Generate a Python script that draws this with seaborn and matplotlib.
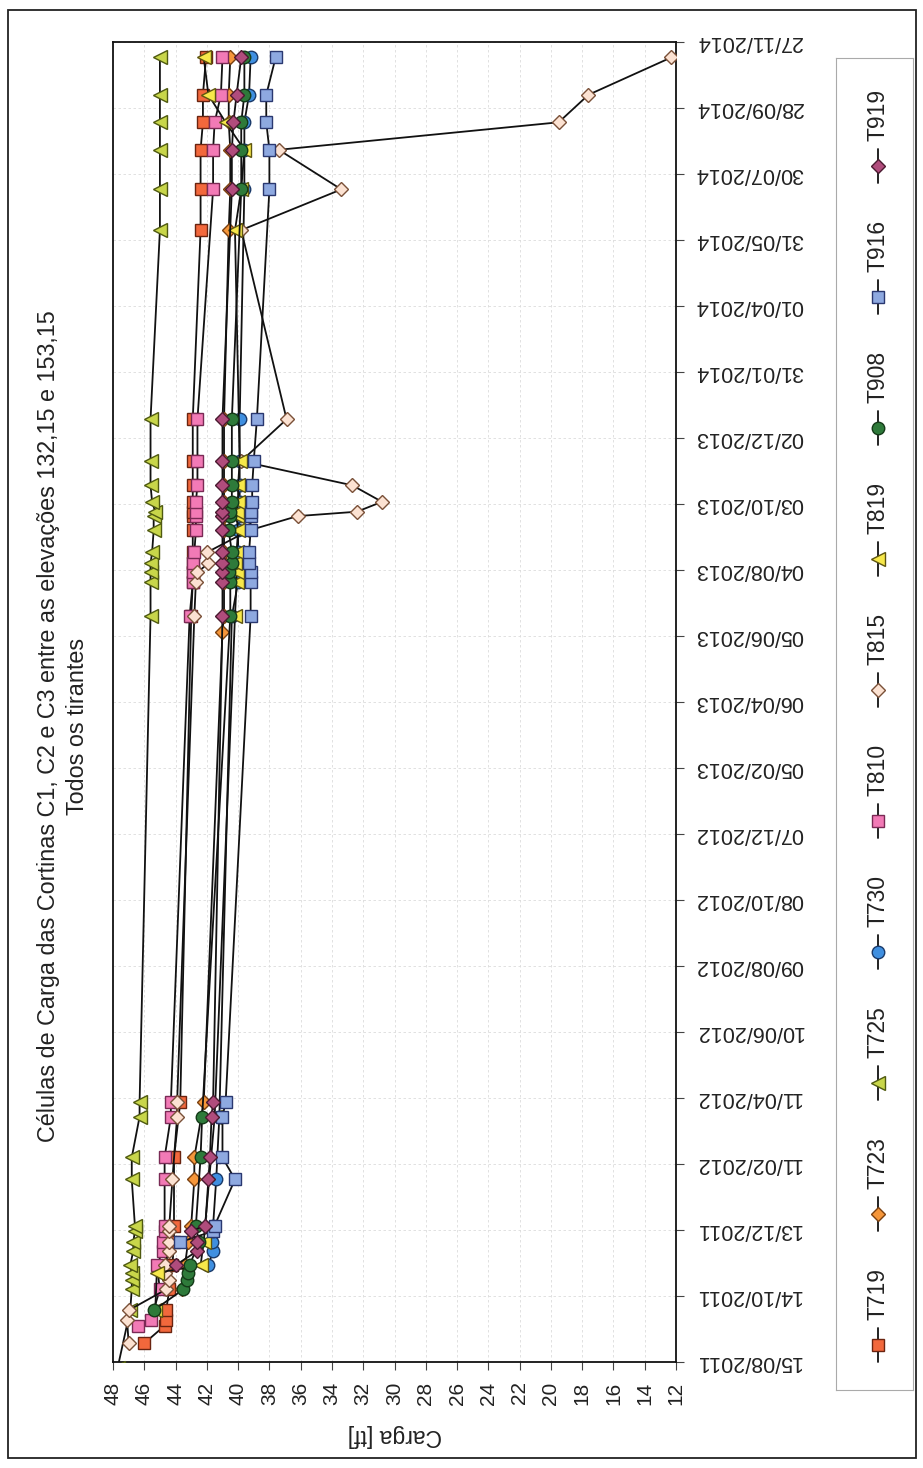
import pandas as pd
import numpy as np
import seaborn as sns
import matplotlib.pyplot as plt
from matplotlib.patches import Rectangle

N = np.nan

datas = [
    "10/08/2011", "01/09/2011", "17/09/2011", "22/09/2011", "01/10/2011", "20/10/2011",
    "29/10/2011", "04/11/2011", "11/11/2011", "24/11/2011", "02/12/2011", "12/12/2011",
    "17/12/2011",
    "28/01/2012", "17/02/2012", "25/03/2012", "07/04/2012",
    "09/06/2013", "23/06/2013", "24/07/2013", "02/08/2013", "10/08/2013", "20/08/2013",
    "09/09/2013", "22/09/2013", "26/09/2013", "05/10/2013", "20/10/2013", "11/11/2013",
    "19/12/2013",
    "09/06/2014", "16/07/2014", "21/08/2014", "15/09/2014", "10/10/2014", "13/11/2014",
]

t719 = [N, 46.0, 44.7, 44.6, 44.6, 44.4, N, N, 44.2, N, 44.1, N, 44.1,
        N, 44.1, N, 43.7,
        N, 43.0, 42.9, 42.9, 42.9, 42.9, 42.9, 42.9, 42.9, 42.9, 42.9, 42.9, 42.9,
        42.4, 42.4, 42.4, 42.25, 42.25, 42.05]
t723 = [N, N, N, N, N, 43.6, N, N, 43.4, N, 43.2, N, 43.0,
        42.8, 42.8, N, 42.2,
        41.0, 40.9, 40.9, 40.9, 40.9, 40.9, 40.9, 40.9, 40.9, 40.9, 40.9, 40.9, 40.9,
        40.6, 40.5, 40.5, 40.6, 40.6, 40.5]
t725 = [47.7, N, N, N, 46.9, 46.8, 46.8, 46.8, 46.9, 46.7, 46.7, 46.6, 46.6,
        46.8, 46.8, 46.3, 46.3,
        N, 45.6, 45.6, 45.6, 45.6, 45.5, 45.4, 45.4, 45.3, 45.5, 45.6, 45.6, 45.6,
        45.0, 45.0, 45.0, 45.0, 45.0, 45.0]
t730 = [N, N, N, N, N, N, N, N, 41.9, 41.6, 41.7, 41.6, 41.6,
        41.4, N, 41.2, N,
        N, 40.4, 40.0, 40.0, 40.0, 40.0, 40.0, 39.9, 39.9, 39.9, 39.9, 39.9, 39.9,
        N, 39.6, 39.6, 39.6, 39.3, 39.2]
t810 = [N, N, 46.4, 45.6, N, 45.0, N, N, 45.2, 44.8, 44.8, 44.7, 44.7,
        44.7, 44.7, 44.3, 44.3,
        N, 43.1, 42.9, 42.9, 42.9, 42.8, 42.7, 42.7, 42.7, 42.7, 42.6, 42.6, 42.6,
        N, 41.6, 41.6, 41.5, 41.1, 41.0]
t815 = [N, 47.0, N, 47.1, 47.0, 44.6, 44.4, 44.7, 44.7, 44.4, 44.4, 44.4, 44.4,
        44.2, N, 43.9, 43.9,
        N, 42.8, 42.7, 42.6, 41.9, 42.0, 39.3, 36.2, 32.4, 30.8, 32.7, 39.8, 36.9,
        39.8, 33.4, 37.4, 19.5, 17.6, 12.3]
t819 = [N, N, N, N, 45.3, N, N, 45.2, 42.4, N, 42.2, N, N,
        N, N, 41.5, N,
        N, 40.2, 40.1, 40.1, 40.2, 40.1, 40.0, 40.1, 40.1, 40.0, 40.0, 39.9, N,
        40.2, 39.8, 39.6, 40.8, 41.9, 42.2]
t908 = [N, N, N, N, 45.4, 43.5, 43.3, 43.2, 43.1, N, 42.5, N, 42.7,
        N, 42.4, 42.3, N,
        N, 40.5, 40.5, 40.6, 40.4, 40.4, 40.6, 40.5, 40.5, 40.4, 40.4, 40.4, 40.4,
        N, 39.8, 39.8, 39.8, 39.6, 39.6]
t916 = [N, N, N, N, N, N, N, N, N, N, 43.7, 41.6, 41.5,
        40.2, 41.0, 41.0, 40.8,
        N, 39.2, 39.2, 39.2, 39.3, 39.3, 39.2, 39.2, 39.2, 39.1, 39.1, 39.0, 38.8,
        N, 38.0, 38.0, 38.2, 38.2, 37.6]
t919 = [N, N, N, N, N, N, N, N, 44.0, 42.6, 42.6, 43.0, 42.1,
        41.9, 41.8, 41.7, 41.6,
        N, 41.0, 41.0, 41.0, 41.0, 41.0, 41.0, 41.0, 41.0, 41.0, 41.0, 41.0, 41.0,
        N, 40.4, 40.4, 40.3, 40.1, 39.8]

tirantes = ["T719", "T723", "T725", "T730", "T810", "T815", "T819", "T908", "T916", "T919"]
valores = [t719, t723, t725, t730, t810, t815, t819, t908, t916, t919]
marcadores = ["s", "D", "<", "o", "s", "D", "<", "o", "s", "D"]
cor_face = ["#f2683c", "#f5963a", "#c8d64a", "#3f8fe0", "#f27ab6",
            "#fce2d2", "#f7e84a", "#2e7a3a", "#8ea9e0", "#b04c7c"]
cor_borda = ["#6a2410", "#7a4010", "#4f5a10", "#1a3a6a", "#7a2a55",
             "#7a5038", "#5e5510", "#143a18", "#2a3870", "#4a1a30"]
tam = [8.5, 7.0, 9.5, 9.0, 8.5, 7.0, 9.5, 9.0, 8.5, 7.0]

ticks_datas = pd.date_range("2011-08-15", periods=21, freq="60D")
ticks_carga = list(range(48, 10, -2))

# long-form table
linhas = []
for nome, vals in zip(tirantes, valores):
    for d, v in zip(datas, vals):
        if not np.isnan(v):
            linhas.append({"tirante": nome, "data": pd.to_datetime(d, dayfirst=True), "carga": v})
df = pd.DataFrame(linhas)

sns.set_theme(style="white")
plt.rcParams["font.family"] = ["Liberation Sans", "DejaVu Sans"]

W, H = 923, 1468
fig = plt.figure(figsize=(W / 100, H / 100), dpi=100)
fig.patch.set_facecolor("white")

# page frame of the scanned sheet
fig.patches.append(Rectangle((8 / W, 10 / H), (916 - 8) / W, (1458 - 10) / H,
                             transform=fig.transFigure, fill=False,
                             edgecolor="#222222", linewidth=1.3))

ax = fig.add_axes([113 / W, 1 - 1362 / H, (676 - 113) / W, (1362 - 42) / H])

for i, nome in enumerate(tirantes):
    sub = df[df["tirante"] == nome]
    sns.lineplot(data=sub, x="carga", y="data", orient="y", ax=ax,
                 color="#111111", linewidth=1.3, errorbar=None,
                 marker=marcadores[i], markersize=tam[i],
                 markerfacecolor=cor_face[i], markeredgecolor=cor_borda[i],
                 markeredgewidth=1.0, zorder=3 + i)

ax.set_xlim(48, 12)
ax.set_ylim(ticks_datas[0], ticks_datas[-1])
ax.set_xticks(ticks_carga)
ax.set_xticklabels([str(t) for t in ticks_carga], rotation=90, fontsize=15)
ax.set_yticks(ticks_datas)
ax.set_yticklabels([d.strftime("%d/%m/%Y") for d in ticks_datas], fontsize=15.5)
ax.yaxis.tick_right()
for lab in ax.get_yticklabels():
    lab.set_rotation(180)
    lab.set_va("center")
    lab.set_color("#222222")
for lab in ax.get_xticklabels():
    lab.set_color("#222222")

ax.tick_params(axis="x", direction="out", length=6, width=0.8, color="#444444", pad=8, bottom=True)
ax.tick_params(axis="y", direction="out", length=6, width=0.8, color="#444444", pad=8, right=True, left=False)
ax.grid(True, color="#dcdcdc", linestyle=(0, (3, 3)), linewidth=0.6)
for s in ax.spines.values():
    s.set_color("#111111")
    s.set_linewidth(1.3)

ax.set_ylabel("")
ax.set_xlabel("Carga [tf]", fontsize=16.5, rotation=180, labelpad=14, color="#222222")

fig.text(63 / W, 1 - 726 / H,
         "Células de Carga das Cortinas C1, C2 e C3 entre as elevações 132,15 e 153,15\nTodos os tirantes",
         rotation=90, ha="center", va="center", multialignment="center",
         fontsize=16.8, color="#222222", linespacing=1.3)

# legend drawn sideways like the scanned page
leg = fig.add_axes([836 / W, 1 - 1390 / H, (913 - 836) / W, (1390 - 58) / H])
leg.set_xlim(0, 77)
leg.set_ylim(0, 1332)
leg.set_xticks([])
leg.set_yticks([])
for s in leg.spines.values():
    s.set_color("#aaaaaa")
    s.set_linewidth(0.8)
for i, nome in enumerate(tirantes):
    yc = 45 + i * 131
    leg.plot([42, 42], [yc - 17, yc + 17], color="#111111", linewidth=1.3)
    leg.plot([42], [yc], marker=marcadores[i], markersize=tam[i],
             markerfacecolor=cor_face[i], markeredgecolor=cor_borda[i], markeredgewidth=1.0)
    leg.text(42, yc + 25, nome, rotation=90, ha="center", va="bottom", fontsize=16.5, color="#222222")

fig.savefig("out.png", dpi=100)
